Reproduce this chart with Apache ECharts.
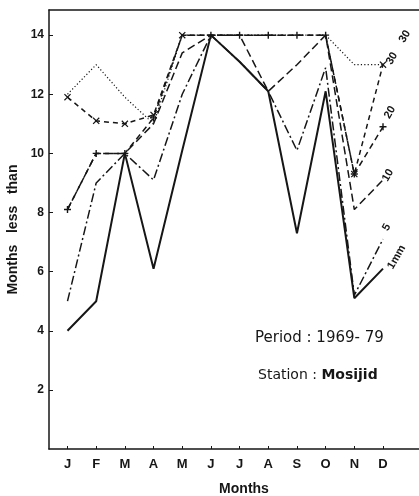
<!DOCTYPE html>
<html><head><meta charset="utf-8">
<script src="https://cdn.jsdelivr.net/npm/echarts@6/dist/echarts.min.js"></script>
<style>html,body{margin:0;padding:0;background:#fff}#c{width:419px;height:496px}</style>
</head><body><div id="c"></div>
<script>
// ---- data ----
const monthLabels = ['J','F','M','A','M','J','J','A','S','O','N','D'];
const months = [1,2,3,4,5,6,7,8,9,10,11,12];
const yTicks = [2,4,6,8,10,12,14];
const rain1mm  = [4.0, 5.0, 10.0, 6.1, 10.1, 14.0, 13.1, 12.1, 7.3, 12.1, 5.1, 6.1];
const rain5mm  = [5.0, 9.0, 10.0, 9.1, 12.0, 14.0, 13.1, 12.1, 10.1, 12.9, 5.2, 7.1];
const rain10mm = [8.1, 10.0, 10.0, 11.0, 13.4, 14.0, 14.0, 12.1, 13.0, 14.0, 8.1, 9.1];
const rain20mm = [8.1, 10.0, 10.0, 11.2, 14.0, 14.0, 14.0, 14.0, 14.0, 14.0, 9.3, 10.9];
const rain30mm = [11.9, 11.1, 11.0, 11.3, 14.0, 14.0, 14.0, 14.0, 14.0, 14.0, 9.3, 13.0];
const rainTop  = [12.0, 13.0, 11.9, 11.0, 14.0, 14.0, 14.0, 14.0, 14.0, 14.0, 13.0, 13.0];
const seriesLabels = ['1mm', '5', '10', '20', '30', '30'];

const INK = '#161616';
const FONT = 'Liberation Sans, Arial, sans-serif';
const pairs = arr => months.map((m, i) => [m, arr[i]]);
const plusSym = 'path://M4,0H6V4H10V6H6V10H4V6H0V4H4Z';
const crossSym = 'path://M1.2,0L5,3.8L8.8,0L10,1.2L6.2,5L10,8.8L8.8,10L5,6.2L1.2,10L0,8.8L3.8,5L0,1.2Z';

// where the "+" and "x" curves coincide, only one marker is drawn
const plusSymbol = (v, p) => (p.dataIndex === 4 && rain30mm[p.dataIndex] === rain20mm[p.dataIndex]) ? 'none' : plusSym;
const crossSymbol = (v, p) => (p.dataIndex >= 5 && p.dataIndex < 10 && rain30mm[p.dataIndex] === rain20mm[p.dataIndex]) ? 'none' : crossSym;

function mk(label, arr, lineType, width, sym, labelOffset, z) {
  return {
    type: 'line', name: label, data: pairs(arr),
    showSymbol: !!sym, symbol: sym || 'none', symbolSize: 7,
    itemStyle: { color: INK },
    lineStyle: { color: INK, width: width, type: lineType },
    z: z || 2,
    animation: false,
    endLabel: {
      show: true, formatter: label, rotate: 60, distance: 0,
      offset: labelOffset, color: INK, fontFamily: FONT,
      fontSize: 11, fontWeight: 'bold', align: 'left', verticalAlign: 'middle'
    }
  };
}

const chart = echarts.init(document.getElementById('c'), null, { renderer: 'canvas' });
chart.setOption({
  backgroundColor: '#fff',
  animation: false,
  grid: { left: 49, right: 0, top: 10, bottom: 47, containLabel: false, outerBoundsMode: 'none' },
  xAxis: [{
    type: 'value', min: 0.355, max: 13.255,
    splitLine: { show: false },
    axisLine: { show: true, lineStyle: { color: INK, width: 1.5 } },
    axisTick: { show: true, inside: true, length: 3, customValues: months, lineStyle: { color: INK } },
    axisLabel: {
      customValues: months, margin: 9, color: INK, fontFamily: FONT,
      fontSize: 13, fontWeight: 'bold',
      formatter: v => monthLabels[Math.round(v) - 1] || ''
    },
    name: 'Months', nameLocation: 'middle', nameGap: 33,
    nameTextStyle: { color: INK, fontFamily: FONT, fontSize: 14, fontWeight: 'bold', padding: [0, 0, 0, 20] }
  }, {
    type: 'value', position: 'top', min: 0.355, max: 13.255,
    splitLine: { show: false },
    axisLine: { show: true, lineStyle: { color: INK, width: 1.5 } },
    axisTick: { show: false }, axisLabel: { show: false }
  }],
  yAxis: {
    type: 'value', min: 0, max: 14.85,
    splitLine: { show: false },
    axisLine: { show: true, lineStyle: { color: INK, width: 1.5 } },
    axisTick: { show: true, inside: true, length: 4, customValues: yTicks, lineStyle: { color: INK } },
    axisLabel: { customValues: yTicks, margin: 5, color: INK, fontFamily: FONT, fontSize: 12, fontWeight: 'bold' },
    name: 'Months   less   than', nameLocation: 'middle', nameGap: 15,
    nameTextStyle: { color: INK, fontFamily: FONT, fontSize: 14, fontWeight: 'bold' }
  },
  series: [
    mk(seriesLabels[0], rain1mm, 'solid', 2, null, [3.9, 6.1], 6),
    mk(seriesLabels[1], rain5mm, [9, 3, 2, 3], 1.5, null, [8.9, -2.6], 5),
    mk(seriesLabels[2], rain10mm, [8, 4], 1.5, null, [0.4, 1.8], 4),
    mk(seriesLabels[3], rain20mm, [6, 4], 1.5, plusSymbol, [9.8, -1.3], 7),
    mk(seriesLabels[4], rain30mm, [5, 4], 1.5, crossSymbol, [3.7, 4.5], 3),
    mk(seriesLabels[5], rainTop, [1.2, 2.2], 1.2, null, [29.3, 4.7], 1)
  ],
  graphic: [
    { type: 'text', left: 255, top: 331,
      style: { text: 'Period : 1969- 79', fill: INK, font: '15px "DejaVu Sans", sans-serif' } },
    { type: 'text', left: 258, top: 368,
      style: { text: 'Station : {b|Mosijid}', fill: INK, font: '14px "DejaVu Sans", sans-serif',
        rich: { b: { fontWeight: 'bold', fontSize: 14, fontFamily: 'DejaVu Sans', fill: INK } } } }
  ]
});
</script>
</body></html>
